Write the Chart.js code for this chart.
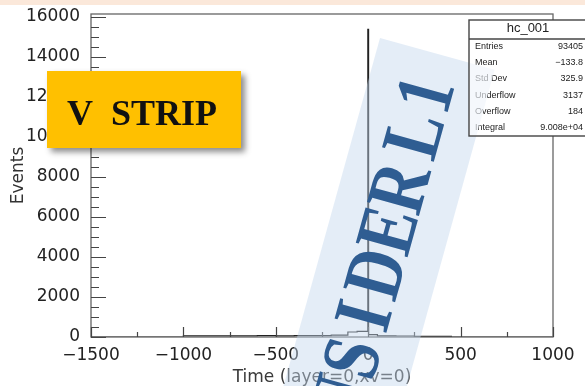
<!DOCTYPE html>
<html>
<head>
<meta charset="utf-8">
<script src="https://cdn.jsdelivr.net/npm/chart.js@4.4.1/dist/chart.umd.min.js"></script>
<style>
  html, body { margin: 0; padding: 0; background: #fff; }
  canvas { display: block; }
</style>
</head>
<body>
<canvas id="c" width="585" height="386"></canvas>
<script>
// Hit-time histogram, V strip, layer 0 (per-bin counts; each entry starts at its low edge)
const binLowEdges = [-1500, -1000, -900, -800, -700, -600, -500, -400, -300, -200, -110, -60, -2, 2, 50, 150, 250, 450, 1000];
const binCounts   = [0, 55, 60, 55, 60, 65, 60, 65, 70, 90, 250, 280, 15380, 120, 60, 50, 30, 0, 0];

const xTickValues = [-1500, -1000, -500, 0, 500, 1000];
const yTickValues = [0, 2000, 4000, 6000, 8000, 10000, 12000, 14000, 16000];

const histName   = 'hc_001';
const statNames  = ['Entries', 'Mean', 'Std Dev', 'Underflow', 'Overflow', 'Integral'];
const statValues = ['93405', '\u2212133.8', '325.9', '3137', '184', '9.008e+04'];

const AXIS_FONT = { family: '"DejaVu Sans", sans-serif', size: 17 };
const minus = v => String(v).replace('-', '\u2212');

// banner geometry (rotated band with stamped lettering)
const BANNER = { ox: 380, oy: 38, angle: -74.5, len: 470, width: 119 };
const bannerLetters = [['I', -404], ['N', -360], ['S', -316], ['I', -272], ['D', -228], ['E', -183], ['R', -139], ['L', -84], ['1', -42]];

function bannerPath(c) {
  c.translate(BANNER.ox, BANNER.oy);
  c.rotate(BANNER.angle * Math.PI / 180);
}

const decor = {
  id: 'decor',
  beforeDraw(chart) {
    const c = chart.ctx;
    c.save();
    c.fillStyle = '#ffffff';
    c.fillRect(0, 0, chart.width, chart.height);
    c.fillStyle = '#fbe8da';
    c.fillRect(0, 0, chart.width, 5);
    c.restore();
  },
  afterDraw(chart) {
    const c = chart.ctx;
    const xs = chart.scales.x, ys = chart.scales.y;
    const L = xs.getPixelForValue(-1500), R = xs.getPixelForValue(1000);
    const B = ys.getPixelForValue(0), T = ys.top;

    // frame
    c.save();
    c.strokeStyle = '#666';
    c.lineWidth = 1.3;
    c.strokeRect(L, T, R - L, B - T);

    // inward ticks on x (major 500, minor 250) and y (major 2000, minor 500)
    c.strokeStyle = '#444';
    c.lineWidth = 1.2;
    c.beginPath();
    for (let v = xs.min; v <= xs.max; v += 250) {
      const px = Math.round(xs.getPixelForValue(v)) + 0.5;
      const len = v % 500 === 0 ? 10 : 5;
      c.moveTo(px, B); c.lineTo(px, B - len);
    }
    for (let v = 0; v <= 16000; v += 500) {
      const py = Math.round(ys.getPixelForValue(v)) + 0.5;
      const len = v % 2000 === 0 ? 15 : 8;
      c.moveTo(L, py); c.lineTo(L + len, py);
    }
    c.stroke();
    c.restore();

    // translucent banner band
    c.save();
    bannerPath(c);
    c.fillStyle = 'rgba(196,214,238,0.45)';
    c.fillRect(-BANNER.len, 0, BANNER.len, BANNER.width);
    c.fillStyle = '#2f5d92';
    c.font = 'bold 82px "Liberation Serif", serif';
    c.textAlign = 'center';
    c.textBaseline = 'alphabetic';
    for (const [ch, lx] of bannerLetters) {
      c.save();
      c.translate(lx, 85);
      c.scale(0.8, 1);
      c.fillText(ch, 0, 0);
      c.restore();
    }
    c.restore();

    // statistics box
    const bx = 469, by = 20, bw = 118, bh = 116;
    c.save();
    c.fillStyle = '#fff';
    c.fillRect(bx, by, bw, bh);
    c.strokeStyle = '#444';
    c.lineWidth = 1.4;
    c.strokeRect(bx, by, bw, bh);
    c.beginPath(); c.moveTo(bx, 39); c.lineTo(bx + bw, 39); c.stroke();
    c.fillStyle = '#222';
    c.font = '13px "Liberation Sans", Arial, sans-serif';
    c.textAlign = 'center';
    c.textBaseline = 'middle';
    c.fillText(histName, 528, 28);
    c.font = '9px "Liberation Sans", Arial, sans-serif';
    statNames.forEach((name, i) => {
      const y = 46.5 + i * 16.2;
      c.textAlign = 'left';
      c.fillText(name, 475, y);
      c.textAlign = 'right';
      c.fillText(statValues[i], 583, y);
    });
    // banner haze over the box interior
    c.beginPath(); c.rect(bx + 1, 40, bw, bh - 21); c.clip();
    bannerPath(c);
    c.fillStyle = 'rgba(240,244,251,0.65)';
    c.fillRect(-BANNER.len, 0, BANNER.len, BANNER.width);
    c.restore();

    // V STRIP label
    c.save();
    c.shadowColor = 'rgba(0,0,0,0.45)';
    c.shadowBlur = 6;
    c.shadowOffsetX = 4;
    c.shadowOffsetY = 4;
    c.fillStyle = '#ffc000';
    c.fillRect(47, 71, 194, 77);
    c.restore();
    c.save();
    c.fillStyle = '#111';
    c.font = 'bold 36px "Liberation Serif", serif';
    c.textAlign = 'left';
    c.textBaseline = 'alphabetic';
    c.fillText('V  STRIP', 67, 125);
    c.restore();
  }
};

const points = binLowEdges.map((x, i) => ({ x, y: binCounts[i] }));

new Chart(document.getElementById('c').getContext('2d'), {
  type: 'line',
  data: {
    datasets: [{
      data: points,
      stepped: 'before',
      borderColor: '#222',
      borderWidth: 1.2,
      pointRadius: 0,
      fill: false
    }]
  },
  options: {
    responsive: false,
    animation: false,
    layout: { padding: { left: 0, top: 14, right: 32, bottom: 0 } },
    plugins: { legend: { display: false }, tooltip: { enabled: false } },
    scales: {
      x: {
        type: 'linear',
        min: -1500,
        max: 1000,
        afterBuildTicks: s => { s.ticks = xTickValues.map(v => ({ value: v })); },
        afterFit: s => { s.height = 49; s.paddingLeft = 0; s.paddingRight = 0; },
        grid: { display: false, drawTicks: false },
        border: { display: false },
        ticks: { font: AXIS_FONT, color: '#222', padding: 8, maxRotation: 0, autoSkip: false, callback: v => minus(v) },
        title: { display: true, text: 'Time (layer=0,xv=0)', font: AXIS_FONT, color: '#3a3a3a', padding: { top: 0, bottom: -2 } }
      },
      y: {
        type: 'linear',
        min: 0,
        max: 16150,
        afterBuildTicks: s => { s.ticks = yTickValues.map(v => ({ value: v })); },
        afterFit: s => { s.width = 91; s.paddingTop = 0; s.paddingBottom = 0; },
        grid: { display: false, drawTicks: false },
        border: { display: false },
        ticks: { font: AXIS_FONT, color: '#222', padding: 11, autoSkip: false, callback: v => String(v) },
        title: { display: true, text: 'Events', font: AXIS_FONT, color: '#333', padding: { top: 8, bottom: 0 } }
      }
    }
  },
  plugins: [decor]
});
</script>
</body>
</html>
